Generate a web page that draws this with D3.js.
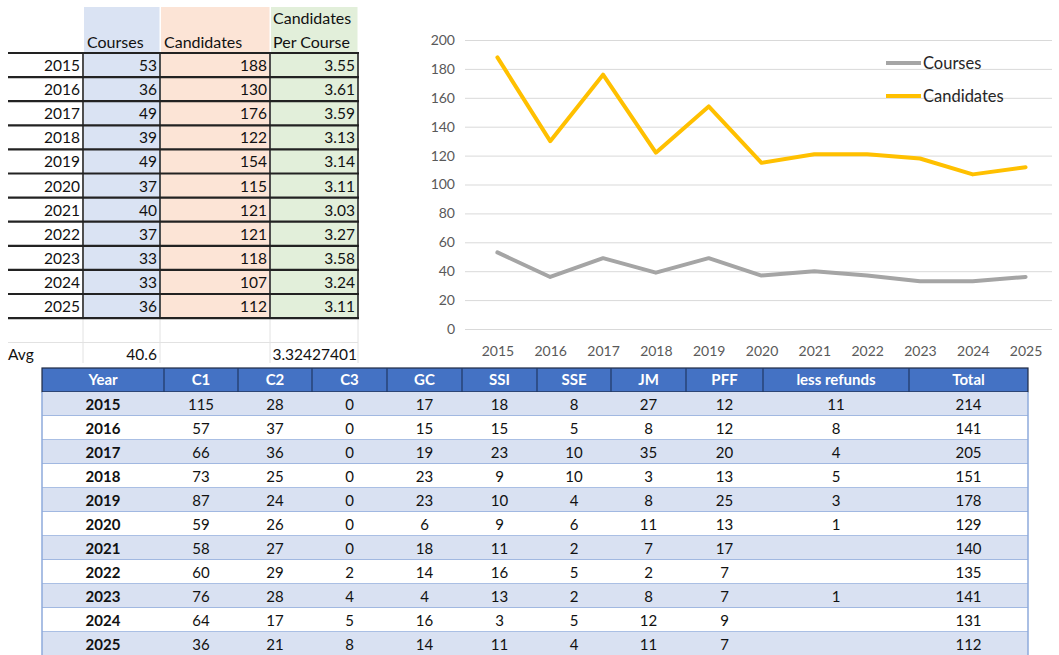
<!DOCTYPE html>
<html><head><meta charset="utf-8">
<script src="https://cdn.jsdelivr.net/npm/d3@7"></script>
<style>body{margin:0;background:#fff}svg{display:block;font-family:Lato,"Open Sans",sans-serif}</style>
</head><body><svg id="c" width="1059" height="655"></svg>
<script>
const years=[2015,2016,2017,2018,2019,2020,2021,2022,2023,2024,2025];
const courses=[53,36,49,39,49,37,40,37,33,33,36];
const candidates=[188,130,176,122,154,115,121,121,118,107,112];
const perCourse=[3.55,3.61,3.59,3.13,3.14,3.11,3.03,3.27,3.58,3.24,3.11];
const avgCourses="40.6", avgPerCourse="3.32427401";
const yTicks=[0,20,40,60,80,100,120,140,160,180,200];
const tableHeaders=["Year","C1","C2","C3","GC","SSI","SSE","JM","PFF","less refunds","Total"];
const c1=[115,57,66,73,87,59,58,60,76,64,36];
const c2=[28,37,36,25,24,26,27,29,28,17,21];
const c3=[0,0,0,0,0,0,0,2,4,5,8];
const gc=[17,15,19,23,23,6,18,14,4,16,14];
const ssi=[18,15,23,9,10,9,11,16,13,3,11];
const sse=[8,5,10,10,4,6,2,5,2,5,4];
const jm=[27,8,35,3,8,11,7,2,8,12,11];
const pff=[12,12,20,13,25,13,17,7,7,9,7];
const refunds=[11,8,4,5,3,1,null,null,1,null,null];
const total=[214,141,205,151,178,129,140,135,141,131,112];

const svg=d3.select("#c");

// ---------- top-left spreadsheet ----------
const T=svg.append("g");
const rowTop=53,rowH=24.1;
const fs=15.5;
const bgCols=[{x0:84,x1:159.5,c:"#dae3f3"},{x0:161,x1:269.5,c:"#fce4d6"},{x0:271,x1:357.5,c:"#e2efda"}];
bgCols.forEach(b=>T.append("rect").attr("x",b.x0).attr("y",7).attr("width",b.x1-b.x0).attr("height",rowTop+rowH*years.length-7).attr("fill",b.c));
[83,160,270,358].forEach(xx=>T.append("line").attr("x1",xx).attr("x2",xx).attr("y1",318).attr("y2",366).attr("stroke","#e2e2e2"));
T.append("line").attr("x1",8).attr("x2",358).attr("y1",342.5).attr("y2",342.5).attr("stroke","#e2e2e2");
T.append("text").attr("x",87).attr("y",48).text("Courses").attr("font-size",16).attr("fill","#111");
T.append("text").attr("x",164).attr("y",48).text("Candidates").attr("font-size",16).attr("fill","#111");
T.append("text").attr("x",273).attr("y",24).text("Candidates").attr("font-size",16).attr("fill","#111");
T.append("text").attr("x",273).attr("y",48).text("Per Course").attr("font-size",16).attr("fill","#111");
const fmt2=d3.format(".2f");
years.forEach((yv,i)=>{
  const ty=rowTop+rowH*i+18;
  const g=T.append("g").attr("font-size",fs).attr("fill","#111").attr("text-anchor","end");
  g.append("text").attr("x",80).attr("y",ty).text(yv);
  g.append("text").attr("x",157).attr("y",ty).text(courses[i]);
  g.append("text").attr("x",267).attr("y",ty).text(candidates[i]);
  g.append("text").attr("x",355).attr("y",ty).text(fmt2(perCourse[i]));
});
for(let i=0;i<=years.length;i++){
  const yy=rowTop+rowH*i;
  T.append("line").attr("x1",8).attr("x2",359).attr("y1",yy).attr("y2",yy).attr("stroke","#222").attr("stroke-width",2.2);
}
[83,160,270,358].forEach(xx=>T.append("line").attr("x1",xx).attr("x2",xx).attr("y1",rowTop).attr("y2",rowTop+rowH*years.length).attr("stroke","#222").attr("stroke-width",1.6));
T.append("text").attr("x",8).attr("y",360).text("Avg").attr("font-size",fs).attr("fill","#111");
T.append("text").attr("x",157).attr("y",360).attr("text-anchor","end").text(avgCourses).attr("font-size",fs).attr("fill","#111");
T.append("text").attr("x",357).attr("y",360).attr("text-anchor","end").text(avgPerCourse).attr("font-size",fs).attr("fill","#111");

// ---------- line chart ----------
const C=svg.append("g");
const x=d3.scalePoint().domain(years).range([471,1052]).padding(0.5);
const y=d3.scaleLinear().domain([0,200]).range([329,40]);
const yAxis=d3.axisLeft(y).tickValues(yTicks).tickSize(-(1052-465)).tickPadding(10);
const ya=C.append("g").attr("transform","translate(465,0)").call(yAxis);
ya.select(".domain").remove();
ya.selectAll(".tick line").attr("stroke","#d9d9d9");
ya.selectAll(".tick text").attr("fill","#595959").attr("font-size",14).attr("font-family","Lato,sans-serif");
const xAxis=d3.axisBottom(x).tickSize(0).tickPadding(17);
const xa=C.append("g").attr("transform","translate(0,329)").call(xAxis);
xa.select(".domain").remove();
xa.selectAll(".tick text").attr("fill","#595959").attr("font-size",14).attr("font-family","Lato,sans-serif");
const line=d3.line().x((d,i)=>x(years[i])).y(d=>y(d));
C.append("path").datum(courses).attr("d",line).attr("fill","none").attr("stroke","#a5a5a5").attr("stroke-width",4).attr("stroke-linejoin","round").attr("stroke-linecap","round");
C.append("path").datum(candidates).attr("d",line).attr("fill","none").attr("stroke","#ffc000").attr("stroke-width",4).attr("stroke-linejoin","round").attr("stroke-linecap","round");
const legend=[{n:"Courses",c:"#a5a5a5",y:63},{n:"Candidates",c:"#ffc000",y:96}];
legend.forEach(l=>{
  C.append("line").attr("x1",886).attr("x2",921).attr("y1",l.y).attr("y2",l.y).attr("stroke",l.c).attr("stroke-width",4);
  C.append("text").attr("x",923).attr("y",l.y+5.5).text(l.n).attr("font-size",16.5).attr("fill","#262626");
});

// ---------- bottom table ----------
const B=svg.append("g");
const bx=[42,164,238,312,387,462,537,611,686,763,909,1028];
const bTop=368,bHdrH=24,bRowH=24;
B.append("rect").attr("x",40).attr("y",363).attr("width",992).attr("height",300).attr("fill","#fff");
B.append("rect").attr("x",bx[0]).attr("y",bTop).attr("width",bx[11]-bx[0]).attr("height",bHdrH).attr("fill","#4472c4").attr("stroke","#1f2a44").attr("stroke-width",1.2);
for(let k=1;k<11;k++) B.append("line").attr("x1",bx[k]).attr("x2",bx[k]).attr("y1",bTop).attr("y2",bTop+bHdrH).attr("stroke","#203864").attr("stroke-width",1.2);
tableHeaders.forEach((h,k)=>B.append("text").attr("x",(bx[k]+bx[k+1])/2).attr("y",bTop+17).attr("text-anchor","middle").attr("fill","#fff").attr("font-weight","bold").attr("font-size",15).text(h));
const cols=[years,c1,c2,c3,gc,ssi,sse,jm,pff,refunds,total];
years.forEach((yr,i)=>{
  const top=bTop+bHdrH+bRowH*i;
  B.append("rect").attr("x",bx[0]).attr("y",top).attr("width",bx[11]-bx[0]).attr("height",bRowH).attr("fill",i%2===0?"#d9e1f2":"#ffffff");
  B.append("line").attr("x1",bx[0]).attr("x2",bx[11]).attr("y1",top+bRowH).attr("y2",top+bRowH).attr("stroke","#8eaadb").attr("stroke-width",1.5);
  cols.forEach((col,k)=>{
    const v=col[i];
    if(v===null||v===undefined) return;
    B.append("text").attr("x",(bx[k]+bx[k+1])/2).attr("y",top+18).attr("text-anchor","middle")
      .attr("fill","#111").attr("font-size",15).attr("font-weight",k===0?"bold":"normal").text(v);
  });
});
B.append("line").attr("x1",bx[0]).attr("x2",bx[0]).attr("y1",bTop+bHdrH).attr("y2",655).attr("stroke","#8eaadb").attr("stroke-width",1.5);
B.append("line").attr("x1",bx[11]).attr("x2",bx[11]).attr("y1",bTop+bHdrH).attr("y2",655).attr("stroke","#8eaadb").attr("stroke-width",1.5);
</script></body></html>
